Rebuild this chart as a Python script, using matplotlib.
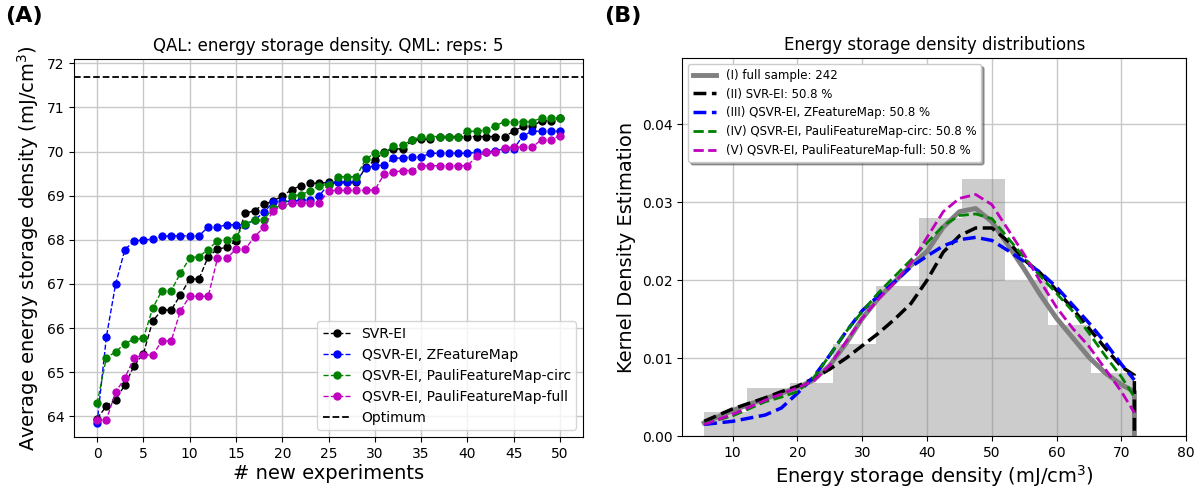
import matplotlib
matplotlib.use('Agg')
import matplotlib.pyplot as plt
import numpy as np

# ---------- panel A: QAL runs ----------
n_exp = np.arange(51)
svr_ei = [63.95, 64.23, 64.38, 64.71, 65.15, 65.42, 66.16, 66.41, 66.41, 66.75,
          67.11, 67.11, 67.62, 67.79, 67.83, 67.98, 68.60, 68.66, 68.81, 68.87,
          69.00, 69.13, 69.23, 69.28, 69.28, 69.30, 69.30, 69.30, 69.30, 69.64,
          69.80, 70.00, 70.06, 70.06, 70.25, 70.28, 70.28, 70.34, 70.34, 70.34,
          70.34, 70.34, 70.34, 70.34, 70.34, 70.46, 70.57, 70.57, 70.70, 70.70,
          70.75]
qsvr_z = [63.85, 65.80, 67.00, 67.78, 67.97, 68.00, 68.01, 68.08, 68.09, 68.09,
          68.09, 68.09, 68.29, 68.29, 68.34, 68.34, 68.34, 68.45, 68.62, 68.85,
          68.87, 68.87, 68.90, 68.90, 69.00, 69.26, 69.30, 69.32, 69.33, 69.62,
          69.68, 69.69, 69.85, 69.85, 69.88, 69.88, 69.96, 69.96, 69.96, 69.96,
          69.96, 69.98, 69.98, 70.02, 70.06, 70.06, 70.36, 70.46, 70.46, 70.46,
          70.46]
qsvr_circ = [64.30, 65.33, 65.46, 65.65, 65.75, 65.77, 66.45, 66.85, 66.85, 67.24,
             67.59, 67.62, 67.78, 67.98, 68.00, 68.07, 68.36, 68.45, 68.45, 68.72,
             68.78, 69.00, 69.02, 69.11, 69.23, 69.25, 69.43, 69.43, 69.43, 69.83,
             69.96, 69.96, 70.13, 70.15, 70.26, 70.34, 70.34, 70.34, 70.34, 70.34,
             70.46, 70.46, 70.49, 70.58, 70.68, 70.68, 70.68, 70.68, 70.76, 70.76,
             70.76]
qsvr_full = [63.92, 63.92, 64.55, 64.87, 65.33, 65.39, 65.39, 65.71, 65.71, 66.39,
             66.72, 66.72, 66.72, 67.58, 67.58, 67.79, 67.79, 68.07, 68.28, 68.66,
             68.78, 68.83, 68.83, 68.83, 68.83, 69.11, 69.12, 69.12, 69.12, 69.12,
             69.13, 69.49, 69.53, 69.57, 69.57, 69.68, 69.68, 69.68, 69.68, 69.68,
             69.68, 69.89, 69.98, 69.98, 70.09, 70.10, 70.10, 70.10, 70.27, 70.27,
             70.36]
optimum = 71.7

# ---------- panel B: distributions ----------
hist_counts = [5, 10, 11, 19, 31, 45, 53, 32, 23, 13]
hist_lo, hist_hi = 5.6, 72.0
n_sample = 242

kde_x = [5.6, 10, 15, 17.5, 20, 22.5, 25, 27.5, 30, 32.5, 35, 37.5, 40, 42.5,
         45, 47.5, 50, 52.5, 55, 57.5, 60, 62.5, 65, 67.5, 70, 72]
kde_full = [0.0017, 0.0033, 0.0048, 0.0055, 0.0062, 0.0072, 0.0091, 0.0119, 0.0151,
            0.0177, 0.0198, 0.0219, 0.0237, 0.0268, 0.0288, 0.0292, 0.0275, 0.0245,
            0.0214, 0.0181, 0.0151, 0.0126, 0.0101, 0.0081, 0.0066, 0.0057]
kde_svr = [0.0019, 0.0035, 0.0049, 0.0057, 0.0064, 0.0074, 0.0086, 0.0100, 0.0116,
           0.0132, 0.0150, 0.0170, 0.0200, 0.0236, 0.0257, 0.0267, 0.0267, 0.0250,
           0.0226, 0.0209, 0.0187, 0.0163, 0.0138, 0.0113, 0.0089, 0.0078]
kde_z = [0.0015, 0.0019, 0.0027, 0.0036, 0.0055, 0.0076, 0.0104, 0.0134, 0.0161,
         0.0180, 0.0198, 0.0217, 0.0231, 0.0244, 0.0252, 0.0255, 0.0251, 0.0238,
         0.0224, 0.0210, 0.0191, 0.0168, 0.0145, 0.0120, 0.0092, 0.0072]
kde_circ = [0.0016, 0.0026, 0.0044, 0.0050, 0.0057, 0.0075, 0.0104, 0.0134, 0.0160,
            0.0184, 0.0205, 0.0226, 0.0248, 0.0270, 0.0283, 0.0285, 0.0279, 0.0254,
            0.0229, 0.0205, 0.0183, 0.0160, 0.0132, 0.0103, 0.0076, 0.0050]
kde_full_map = [0.0015, 0.0028, 0.0046, 0.0054, 0.0062, 0.0071, 0.0091, 0.0121, 0.0151,
                0.0176, 0.0197, 0.0222, 0.0255, 0.0288, 0.0305, 0.0310, 0.0297, 0.0265,
                0.0233, 0.0198, 0.0165, 0.0138, 0.0115, 0.0086, 0.0057, 0.0030]

fig = plt.figure(figsize=(12.01, 4.9), dpi=100)
ax1 = fig.add_axes([0.0616, 0.108, 0.424, 0.771])
ax2 = fig.add_axes([0.568, 0.110, 0.4197, 0.7715])

# panel A
ax1.plot(n_exp, svr_ei, 'o--', color='black', lw=1, ms=5, label='SVR-EI')
ax1.plot(n_exp, qsvr_z, 'o--', color='blue', lw=1, ms=5, label='QSVR-EI, ZFeatureMap')
ax1.plot(n_exp, qsvr_circ, 'o--', color='green', lw=1, ms=5,
         label='QSVR-EI, PauliFeatureMap-circ')
ax1.plot(n_exp, qsvr_full, 'o--', color='m', lw=1, ms=5,
         label='QSVR-EI, PauliFeatureMap-full')
ax1.axhline(optimum, color='black', ls='--', lw=1.3, label='Optimum')
ax1.set_xlim(-2.5, 52.5)
ax1.set_ylim(63.53, 72.09)
ax1.set_xticks(np.arange(0, 51, 5))
ax1.set_yticks(np.arange(64, 73, 1))
ax1.tick_params(labelsize=10)
ax1.grid(True, lw=1, color='#c8c8c8')
ax1.set_xlabel('# new experiments', fontsize=14, labelpad=2)
ax1.set_ylabel('Average energy storage density (mJ/cm$^3$)', fontsize=14)
ax1.set_title('QAL: energy storage density. QML: reps: 5', fontsize=12)
ax1.legend(loc='lower right', fontsize=10)

# panel B
edges = np.linspace(hist_lo, hist_hi, len(hist_counts) + 1)
centers = 0.5 * (edges[:-1] + edges[1:])
ax2.hist(centers, bins=edges, weights=hist_counts, density=True,
         color='gray', alpha=0.4)
ax2.plot(kde_x + [72], kde_full + [0], color='gray', lw=3.5,
         label='(I) full sample: %d' % n_sample)
ax2.plot(kde_x + [72], kde_svr + [0], color='black', ls='--', lw=2.5,
         label='(II) SVR-EI: 50.8 %')
ax2.plot(kde_x, kde_z, color='blue', ls='--', lw=2.5,
         label='(III) QSVR-EI, ZFeatureMap: 50.8 %')
ax2.plot(kde_x, kde_circ, color='green', ls='--', lw=2,
         label='(IV) QSVR-EI, PauliFeatureMap-circ: 50.8 %')
ax2.plot(kde_x, kde_full_map, color='m', ls='--', lw=2,
         label='(V) QSVR-EI, PauliFeatureMap-full: 50.8 %')
ax2.set_xlim(2.2, 80)
ax2.set_ylim(0, 0.0485)
ax2.set_yticks([0, 0.01, 0.02, 0.03, 0.04])
ax2.yaxis.set_major_formatter(plt.FormatStrFormatter('%.2f'))
ax2.tick_params(labelsize=10)
ax2.grid(True, lw=1, color='#c8c8c8')
ax2.set_axisbelow(True)
ax2.set_xlabel('Energy storage density (mJ/cm$^3$)', fontsize=14, labelpad=2)
ax2.set_ylabel('Kernel Density Estimation', fontsize=14)
ax2.set_title('Energy storage density distributions', fontsize=12)
ax2.legend(loc='upper left', fontsize=8.5, shadow=True)

fig.text(0.004, 0.955, '(A)', fontsize=16, fontweight='bold')
fig.text(0.503, 0.955, '(B)', fontsize=16, fontweight='bold')

fig.savefig('out.png', dpi=100)
